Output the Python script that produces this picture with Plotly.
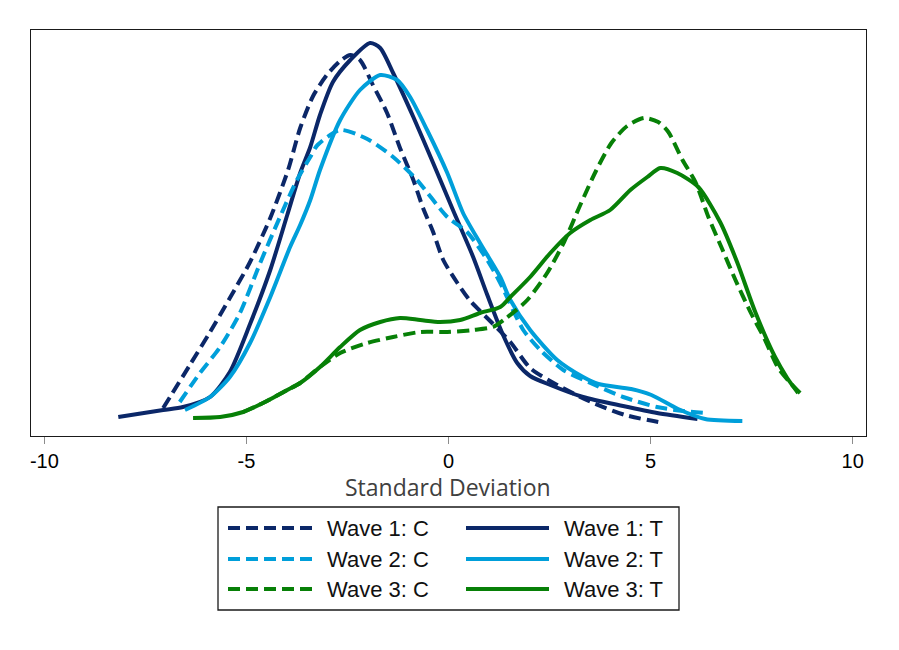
import plotly.graph_objects as go

# ---------------- data ----------------
w1c_x = [-7.06, -6.40, -5.90, -5.41, -4.91, -4.41, -3.97, -3.67, -3.35, -3.01, -2.68, -2.43, -2.19,
         -1.87, -1.52, -1.20, -0.87, -0.63, -0.38, -0.13, 0.22, 0.54, 1.03, 1.53, 2.02, 2.69, 3.53,
         4.37, 5.19]
w1c_y = [0.007, 0.0285, 0.045, 0.062, 0.080, 0.102, 0.126, 0.147, 0.163, 0.1735, 0.1805, 0.1835, 0.181,
         0.1685, 0.1545, 0.137, 0.121, 0.107, 0.095, 0.081, 0.0695, 0.0605, 0.0505, 0.040, 0.027, 0.0185,
         0.010, 0.0035, 0.0]

w1t_x = [-8.17, -7.06, -6.57, -5.90, -5.41, -4.91, -4.41, -3.99, -3.67, -3.42, -3.18, -2.86, -2.43,
         -1.94, -1.69, -1.37, -0.87, -0.38, 0.11, 0.61, 0.96, 1.35, 1.70, 2.02, 2.52, 3.33, 4.32, 5.16,
         6.16]
w1t_y = [0.0025, 0.006, 0.0075, 0.0125, 0.025, 0.049, 0.076, 0.1035, 0.1245, 0.1375, 0.1535, 0.170,
         0.181, 0.1895, 0.187, 0.1745, 0.1525, 0.1295, 0.106, 0.0825, 0.0635, 0.0435, 0.0295, 0.023,
         0.0185, 0.0125, 0.008, 0.0045, 0.0015]

w2c_x = [-6.65, -6.15, -5.65, -5.16, -4.66, -4.17, -3.75, -3.42, -3.24, -2.68, -2.01, -1.37, -0.78,
         -0.03, 0.46, 0.96, 1.28, 1.85, 2.27, 2.84, 3.51, 4.32, 5.16, 5.81, 6.35]
w2c_y = [0.010, 0.0245, 0.0375, 0.0545, 0.0795, 0.1025, 0.121, 0.1325, 0.1385, 0.146, 0.1415, 0.1325,
         0.121, 0.1025, 0.095, 0.081, 0.0695, 0.046, 0.036, 0.026, 0.0195, 0.0125, 0.0075, 0.0055, 0.0045]

w2t_x = [-6.52, -5.90, -5.41, -4.91, -4.41, -3.92, -3.67, -3.42, -3.18, -2.68, -2.19, -1.69, -1.27,
         -0.95, -0.53, -0.03, 0.36, 0.78, 1.28, 1.53, 2.02, 2.69, 3.33, 3.71, 4.52, 5.02, 5.68, 6.35, 7.27]
w2t_y = [0.006, 0.0125, 0.0225, 0.0395, 0.0625, 0.0875, 0.0985, 0.111, 0.126, 0.151, 0.166, 0.1735,
         0.171, 0.1625, 0.146, 0.1245, 0.1045, 0.0895, 0.0725, 0.061, 0.046, 0.031, 0.0225, 0.019, 0.0165,
         0.0135, 0.0065, 0.0015, 0.0005]

w3c_x = [-5.08, -4.59, -3.99, -3.67, -3.18, -2.68, -2.01, -1.37, -0.70, -0.03, 0.61, 1.10, 1.40, 1.95,
         2.44, 2.86, 3.26, 3.66, 4.03, 4.42, 4.84, 5.19, 5.44, 5.79, 6.11, 6.43, 6.75, 7.10, 7.47, 7.81,
         8.16, 8.46, 8.70]
w3c_y = [0.005, 0.0095, 0.016, 0.0195, 0.0275, 0.0345, 0.0395, 0.0425, 0.045, 0.045, 0.046, 0.0475,
         0.0515, 0.061, 0.0745, 0.090, 0.1085, 0.126, 0.1395, 0.148, 0.152, 0.150, 0.145, 0.131, 0.120,
         0.1025, 0.0875, 0.071, 0.055, 0.042, 0.027, 0.0195, 0.0145]

w3t_x = [-6.32, -5.65, -5.08, -4.59, -3.99, -3.67, -3.18, -2.68, -2.19, -1.69, -1.20, -0.70, -0.21,
         0.29, 0.78, 1.28, 1.53, 2.02, 2.52, 3.01, 3.51, 4.00, 4.50, 4.92, 5.24, 5.66, 6.18, 6.72, 7.14,
         7.59, 8.08, 8.38, 8.65]
w3t_y = [0.002, 0.0025, 0.005, 0.0095, 0.016, 0.0195, 0.0275, 0.0375, 0.046, 0.050, 0.052, 0.051,
         0.050, 0.051, 0.0545, 0.0575, 0.0625, 0.0725, 0.0845, 0.0945, 0.101, 0.106, 0.116, 0.1225, 0.127,
         0.1245, 0.1175, 0.100, 0.080, 0.055, 0.0325, 0.022, 0.0145]

series_names = ["Wave 1: C", "Wave 1: T", "Wave 2: C", "Wave 2: T", "Wave 3: C", "Wave 3: T"]
series_x = [w1c_x, w1t_x, w2c_x, w2t_x, w3c_x, w3t_x]
series_y = [w1c_y, w1t_y, w2c_y, w2t_y, w3c_y, w3t_y]

x_ticks = [-10, -5, 0, 5, 10]
x_tick_labels = ["-10", "-5", "0", "5", "10"]
x_title = "Standard Deviation"

# ---------------- styles ----------------
NAVY = "#0b2768"
LBLUE = "#009fda"
GREEN = "#078007"
colors = [NAVY, NAVY, LBLUE, LBLUE, GREEN, GREEN]
DASH = "12px,6px"
dashes = [DASH, "solid", DASH, "solid", DASH, "solid"]
LW = 4

fig = go.Figure()
for name, xs, ys, c, d in zip(series_names, series_x, series_y, colors, dashes):
    fig.add_trace(go.Scatter(
        x=xs, y=ys, mode="lines", name=name, showlegend=False,
        line=dict(color=c, width=LW, dash=d, shape="spline", smoothing=0.7),
        hoverinfo="x+y+name",
    ))

# ---------------- geometry (page pixels; page body has an 8px margin) ----------------
OFF = 8
FW, FH = 899 - 2 * OFF, 650 - 2 * OFF
L, R, T, B = 31, 866, 30, 436   # plot-area edges in window pixels

def px_x(p):
    return (p - L) / (R - L)
def px_y(p):
    return (B - p) / (B - T)

# ---------------- manual legend (two columns, three rows) ----------------
shapes = [dict(type="rect", xref="paper", yref="paper",
               x0=px_x(218), x1=px_x(679), y0=px_y(507), y1=px_y(610),
               line=dict(color="#1a1a1a", width=1.3), fillcolor="white", layer="above")]
annotations = []
row_y = [528, 559, 589]
col_line = [(228, 312), (466, 549)]
col_text = [325, 562]
for i, (name, c, d) in enumerate(zip(series_names, colors, dashes)):
    row, col = i // 2, i % 2
    yy = px_y(row_y[row])
    shapes.append(dict(type="line", xref="paper", yref="paper",
                       x0=px_x(col_line[col][0]), x1=px_x(col_line[col][1]), y0=yy, y1=yy,
                       line=dict(color=c, width=4, dash=d), layer="above"))
    annotations.append(dict(xref="paper", yref="paper", x=px_x(col_text[col]), y=yy,
                            text=name, showarrow=False, xanchor="left", yanchor="middle",
                            font=dict(family="Liberation Sans, Arial, sans-serif", size=22, color="#111")))

annotations.append(dict(xref="paper", yref="paper", x=px_x(448), y=px_y(487), text=x_title,
                        showarrow=False, xanchor="center", yanchor="middle",
                        font=dict(family="Open Sans, Lato, sans-serif", size=23, color="#404040")))

fig.update_layout(
    width=FW, height=FH,
    margin=dict(l=L - OFF, r=(OFF + FW) - R, t=T - OFF, b=(OFF + FH) - B, pad=0),
    paper_bgcolor="white", plot_bgcolor="white",
    showlegend=False,
    shapes=shapes, annotations=annotations,
    xaxis=dict(range=[-10.33, 10.33], tickvals=x_ticks, ticktext=x_tick_labels,
               ticks="outside", ticklen=7, tickwidth=1.3, tickcolor="#8c8c8c",
               showline=True, mirror=True, linecolor="#1a1a1a", linewidth=1.3,
               showgrid=False, zeroline=False,
               tickfont=dict(family="Liberation Sans, Arial, sans-serif", size=20, color="#000")),
    yaxis=dict(range=[-0.007, 0.196], showticklabels=False, ticks="",
               showline=True, mirror=True, linecolor="#1a1a1a", linewidth=1.3,
               showgrid=False, zeroline=False),
)

fig.write_html("out.html")
